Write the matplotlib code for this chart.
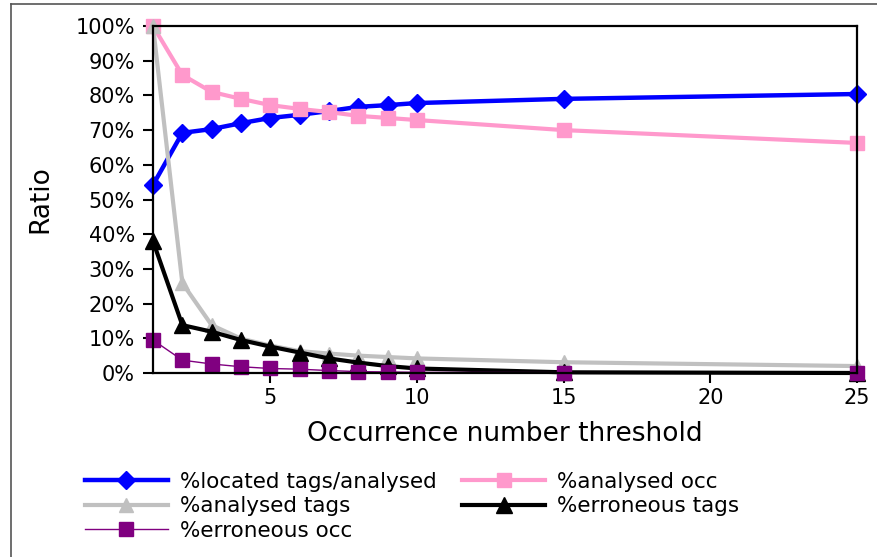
import matplotlib
matplotlib.use('Agg')
import matplotlib.pyplot as plt
from matplotlib.lines import Line2D
from matplotlib.ticker import PercentFormatter, MultipleLocator

thresholds = [1, 2, 3, 4, 5, 6, 7, 8, 9, 10, 15, 25]
located_tags = [54.2, 69.2, 70.3, 72.0, 73.5, 74.4, 75.5, 76.7, 77.2, 77.8, 79.0, 80.4]
analysed_occ = [100, 85.9, 81.0, 79.0, 77.2, 76.1, 75.2, 74.1, 73.5, 72.9, 70.0, 66.3]
analysed_tags = [100, 25.9, 13.8, 9.9, 7.9, 6.3, 5.6, 5.0, 4.6, 4.2, 3.1, 2.0]
erroneous_tags = [38.0, 13.8, 11.9, 9.5, 7.6, 5.9, 4.2, 3.0, 2.0, 1.3, 0.2, 0.0]
erroneous_occ = [9.5, 3.7, 2.6, 1.8, 1.3, 1.1, 0.7, 0.4, 0.3, 0.2, 0.1, 0.05]

fig = plt.figure(figsize=(8.77, 5.57), dpi=100)
ax = fig.add_axes([153/877, 1 - 373/557, 704/877, 347/557])

ax.plot(thresholds, located_tags, color='#0000FF', lw=3.2, marker='D', ms=9,
        label='%located tags/analysed', clip_on=False)
ax.plot(thresholds, analysed_occ, color='#FF99CC', lw=3, marker='s', ms=10,
        label='%analysed occ', clip_on=False)
ax.plot(thresholds, analysed_tags, color='#C0C0C0', lw=3, marker='^', ms=10,
        label='%analysed tags', clip_on=False)
ax.plot(thresholds, erroneous_tags, color='black', lw=3, marker='^', ms=11,
        label='%erroneous tags', clip_on=False)
ax.plot(thresholds, erroneous_occ, color='#800080', lw=1, marker='s', ms=10,
        label='%erroneous occ', clip_on=False)

ax.set_xlim(1, 25)
ax.set_ylim(0, 100)
ax.xaxis.set_major_locator(MultipleLocator(5))
ax.yaxis.set_major_locator(MultipleLocator(10))
ax.yaxis.set_major_formatter(PercentFormatter(decimals=0))
ax.tick_params(axis='both', labelsize=15, width=1.5, length=7, direction='out')
ax.tick_params(axis='y', pad=6)
ax.tick_params(axis='x', pad=4)
for s in ax.spines.values():
    s.set_linewidth(1.6)

ax.set_xlabel('Occurrence number threshold', fontsize=19, labelpad=9)
ax.set_ylabel('Ratio', fontsize=19, labelpad=16)

# order: col1 = blue, gray, purple ; col2 = pink, black
h, l = ax.get_legend_handles_labels()
order = [0, 2, 4, 1, 3]
fig.legend([h[i] for i in order], [l[i] for i in order], ncol=2, frameon=False,
           loc='upper left', bbox_to_anchor=(85/877, 1 - 472/557),
           fontsize=15.5, handlelength=3.85, handletextpad=0.55,
           columnspacing=1.2, labelspacing=0.2, borderpad=0, borderaxespad=0)

# outer frame (cropped at right and bottom)
fig.add_artist(Line2D([11/877, 11/877], [-0.01, 1 - 4/557], color='#555555', lw=1.2))
fig.add_artist(Line2D([11/877, 1.01], [1 - 4/557, 1 - 4/557], color='#555555', lw=1.2))

fig.savefig('out.png', dpi=100)
